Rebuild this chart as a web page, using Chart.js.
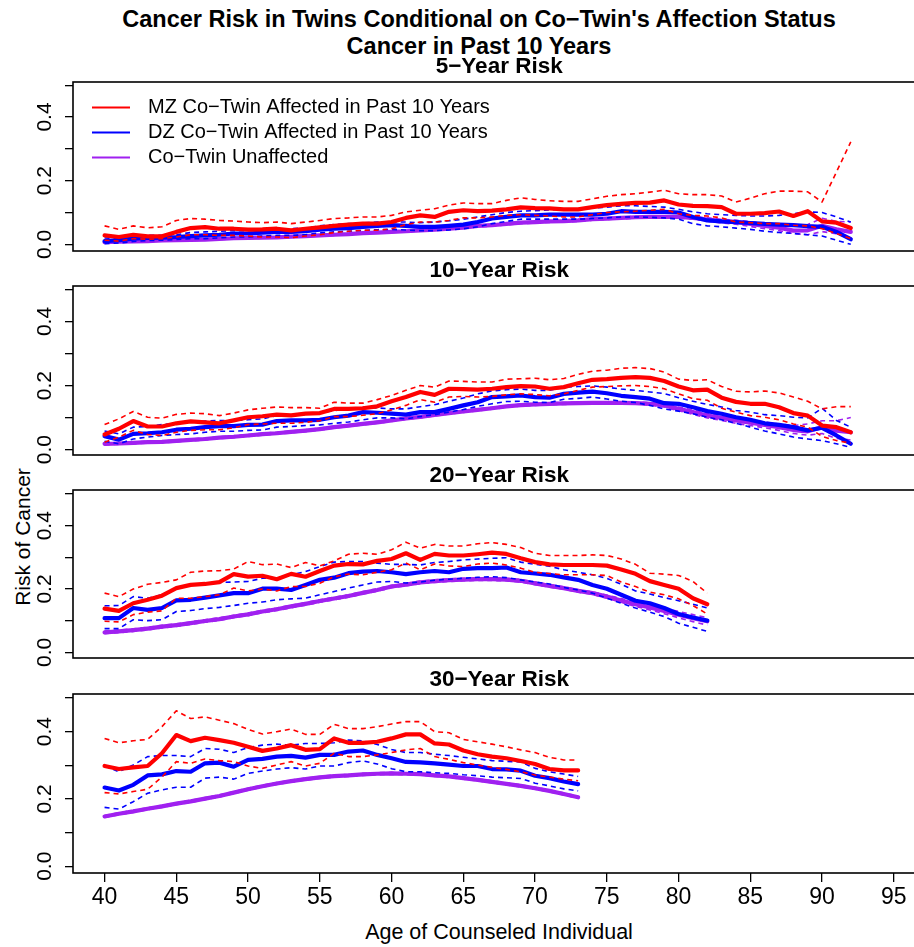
<!DOCTYPE html>
<html>
<head>
<meta charset="utf-8">
<script src="https://cdn.jsdelivr.net/npm/chart.js@4.4.0/dist/chart.umd.min.js"></script>
<style>
html, body { margin:0; padding:0; background:#fff; overflow:hidden; }
#wrap { position:relative; width:914px; height:947px; overflow:hidden; }
#wrap canvas { position:absolute; left:0; }
.t { position:absolute; white-space:nowrap; font-family:'Liberation Sans', Arial, sans-serif; color:#000; transform:translate(-50%,-50%); line-height:1; }
</style>
</head>
<body>
<div id="wrap">
  <div class="t" style="left:479px;top:20px;font-weight:bold;font-size:23.5px">Cancer Risk in Twins Conditional on Co−Twin's Affection Status</div>
  <div class="t" style="left:479px;top:47px;font-weight:bold;font-size:23.5px">Cancer in Past 10 Years</div>
  <div class="t" style="left:22px;top:537px;font-size:21px;transform:translate(-50%,-50%) rotate(-90deg)">Risk of Cancer</div>
  <div class="t" style="left:499px;top:933px;font-size:21.5px">Age of Counseled Individual</div>
</div>
<script>
const FONT = "'Liberation Sans', Arial, sans-serif";
const RED = '#FF0000', BLUE = '#0000FF', PURPLE = '#A020F0';

// ages on the x axis (the shorter horizons stop earlier)
const AGES = [40,41,42,43,44,45,46,47,48,49,50,51,52,53,54,55,56,57,58,59,60,61,62,63,64,65,66,67,68,69,
  70,71,72,73,74,75,76,77,78,79,80,81,82,83,84,85,86,87,88,89,90,91,92];
const X_TICKS = [40,45,50,55,60,65,70,75,80,85,90,95];
const Y_TICKS = [0,0.1,0.2,0.3,0.4,0.5];
const Y_LABELS = [0,0.2,0.4];
const LEGEND = ['MZ Co\u2212Twin Affected in Past 10 Years', 'DZ Co\u2212Twin Affected in Past 10 Years', 'Co\u2212Twin Unaffected'];

// ---- 5-year risk ----
const R5 = [.028,.023,.030,.025,.025,.039,.051,.054,.049,.049, .046,.047,.049,.044,.049,.053,.058,.062,.065,.065,
  .070,.083,.091,.086,.102,.107,.104,.106,.110,.116, .114,.113,.110,.110,.117,.123,.127,.130,.131,.138,
  .125,.121,.120,.117,.096,.096,.098,.103,.089,.104, .072,.068,.051];
const R5_HI = [.058,.047,.058,.052,.055,.075,.081,.079,.075,.073, .070,.068,.070,.065,.070,.075,.081,.083,.086,.086,
  .091,.102,.107,.112,.123,.130,.128,.128,.138,.146, .141,.137,.135,.135,.143,.151,.156,.159,.164,.170,
  .159,.156,.156,.152,.133,.145,.159,.167,.167,.165, .133,.227,.322];
const R5_LO = [.013,.010,.018,.016,.018,.023,.030,.030,.028,.028, .026,.023,.023,.021,.026,.030,.037,.041,.044,.044,
  .049,.062,.070,.070,.075,.083,.083,.086,.091,.093, .091,.089,.086,.086,.093,.100,.102,.104,.107,.110,
  .096,.091,.089,.083,.070,.068,.065,.065,.060,.058, .049,.034,.018];
const B5 = [.010,.013,.018,.020,.021,.023,.026,.028,.030,.034, .034,.037,.039,.039,.041,.046,.049,.051,.055,.058,
  .060,.058,.055,.055,.058,.062,.070,.081,.086,.091, .091,.093,.093,.093,.093,.096,.104,.102,.102,.102,
  .100,.086,.075,.072,.070,.067,.064,.062,.060,.057, .055,.039,.016];
const B5_HI = [.020,.018,.026,.028,.028,.030,.037,.039,.041,.043, .043,.047,.049,.049,.051,.058,.062,.065,.067,.070,
  .070,.070,.068,.070,.074,.079,.086,.093,.100,.104, .106,.108,.110,.110,.114,.117,.121,.121,.119,.117,
  .110,.102,.096,.093,.091,.089,.089,.091,.096,.102, .100,.086,.070];
const B5_LO = [.002,.004,.009,.012,.013,.015,.018,.018,.020,.023, .023,.026,.028,.028,.030,.036,.039,.041,.044,.046,
  .047,.045,.043,.043,.045,.049,.055,.065,.072,.079, .079,.079,.079,.079,.081,.083,.086,.086,.085,.083,
  .079,.065,.058,.055,.051,.047,.041,.037,.034,.030, .026,.013,.000];
const P5 = [.007,.008,.009,.010,.012,.013,.014,.015,.017,.019, .020,.021,.022,.024,.026,.028,.030,.032,.035,.037,
  .039,.041,.044,.046,.049,.052,.058,.060,.064,.068, .070,.072,.073,.075,.079,.081,.083,.085,.086,.086,
  .086,.083,.078,.073,.070,.064,.058,.052,.043,.044, .058,.047,.039];
const P5_HI = [.009,.010,.011,.012,.014,.015,.016,.017,.019,.021, .022,.023,.024,.026,.028,.030,.032,.034,.037,.039,
  .041,.043,.046,.048,.051,.054,.060,.062,.066,.070, .072,.074,.076,.078,.082,.084,.086,.088,.089,.089,
  .089,.087,.083,.078,.076,.071,.066,.062,.058,.062, .082,.072,.070];
const P5_LO = [.005,.006,.007,.008,.010,.011,.012,.013,.015,.017, .018,.019,.020,.022,.024,.026,.028,.030,.033,.035,
  .037,.039,.042,.044,.047,.050,.055,.057,.061,.065, .067,.069,.070,.072,.076,.078,.080,.082,.083,.083,
  .083,.079,.073,.067,.063,.056,.049,.043,.034,.030, .040,.033,.017];

// ---- 10-year risk ----
const R10 = [.047,.065,.089,.072,.072,.082,.088,.085,.082,.091, .101,.104,.109,.107,.112,.114,.127,.127,.129,.135,
  .151,.164,.180,.171,.190,.189,.187,.190,.195,.198, .197,.190,.195,.207,.218,.220,.224,.226,.224,.214,
  .197,.185,.187,.162,.149,.143,.143,.132,.114,.106, .075,.070,.054];
const R10_HI = [.078,.096,.119,.101,.098,.110,.114,.112,.106,.114, .124,.129,.133,.131,.131,.129,.148,.145,.145,.156,
  .169,.185,.200,.195,.214,.213,.211,.211,.220,.221, .223,.218,.222,.235,.245,.248,.254,.256,.253,.242,
  .220,.216,.218,.197,.182,.180,.183,.177,.164,.151, .127,.134,.134];
const R10_LO = [.023,.039,.060,.047,.044,.054,.060,.062,.062,.068, .078,.080,.082,.082,.085,.090,.103,.103,.107,.112,
  .124,.138,.156,.148,.164,.166,.164,.166,.171,.174, .172,.168,.174,.185,.195,.197,.199,.200,.197,.190,
  .174,.159,.154,.129,.117,.106,.101,.093,.080,.070, .041,.028,.020];
const B10 = [.042,.031,.049,.051,.054,.062,.065,.070,.073,.073, .077,.078,.089,.091,.091,.093,.101,.106,.117,.115,
  .112,.109,.117,.117,.127,.138,.148,.164,.166,.169, .164,.162,.174,.178,.181,.176,.168,.164,.159,.145,
  .143,.132,.120,.112,.101,.093,.082,.077,.070,.060, .068,.044,.018];
const B10_HI = [.058,.049,.070,.072,.078,.082,.086,.089,.091,.091, .093,.096,.106,.108,.110,.114,.122,.127,.132,.130,
  .127,.127,.134,.140,.151,.161,.174,.183,.187,.189, .185,.185,.195,.197,.199,.195,.189,.185,.180,.175,
  .162,.151,.141,.133,.122,.117,.109,.106,.101,.099, .129,.091,.070];
const B10_LO = [.026,.018,.033,.039,.044,.047,.049,.054,.057,.057, .060,.061,.070,.072,.075,.077,.082,.086,.093,.099,
  .099,.096,.103,.109,.117,.125,.135,.143,.150,.151, .148,.147,.157,.160,.164,.158,.151,.147,.138,.127,
  .120,.112,.101,.093,.082,.070,.058,.049,.039,.033, .028,.018,.007];
const P10 = [.018,.019,.021,.023,.024,.027,.030,.033,.037,.040, .044,.048,.051,.055,.059,.064,.070,.075,.080,.085,
  .091,.097,.102,.108,.114,.119,.124,.129,.135,.139, .141,.143,.144,.145,.146,.146,.146,.145,.143,.138,
  .127,.117,.106,.099,.091,.084,.077,.070,.061,.057, .070,.059,.054];
const P10_HI = [.021,.022,.024,.026,.027,.030,.033,.036,.040,.043, .047,.051,.054,.058,.062,.067,.073,.078,.083,.088,
  .094,.100,.105,.111,.117,.122,.127,.132,.138,.142, .144,.146,.147,.148,.149,.149,.149,.148,.147,.143,
  .133,.124,.113,.107,.100,.093,.086,.080,.075,.080, .090,.090,.100];
const P10_LO = [.015,.016,.018,.020,.021,.024,.027,.030,.034,.037, .041,.045,.048,.052,.056,.061,.067,.072,.077,.082,
  .088,.094,.099,.105,.111,.116,.121,.126,.132,.136, .138,.140,.141,.142,.143,.143,.143,.142,.139,.133,
  .121,.110,.099,.091,.082,.075,.068,.060,.050,.045, .050,.035,.030];

// ---- 20-year risk ----
const R20 = [.138,.131,.155,.166,.179,.203,.213,.216,.222,.247, .239,.242,.231,.248,.239,.257,.274,.279,.278,.289,
  .295,.313,.292,.311,.306,.306,.310,.315,.311,.297, .285,.278,.276,.276,.276,.274,.262,.248,.225,.213,
  .201,.171,.152];
const R20_HI = [.187,.176,.200,.215,.221,.229,.253,.257,.258,.263, .287,.277,.279,.268,.284,.273,.289,.310,.313,.310,
  .324,.348,.329,.341,.336,.336,.343,.347,.341,.331, .313,.306,.306,.306,.308,.306,.295,.278,.250,.247,
  .243,.224,.187];
const R20_LO = [.098,.096,.119,.127,.131,.171,.171,.176,.182,.203, .194,.200,.194,.208,.208,.218,.239,.247,.245,.253,
  .261,.282,.261,.279,.273,.271,.279,.282,.276,.266, .253,.249,.245,.245,.245,.243,.222,.208,.190,.182,
  .169,.148,.121];
const B20 = [.108,.108,.140,.134,.140,.164,.166,.173,.180,.187, .187,.201,.201,.197,.213,.229,.236,.250,.255,.257,
  .253,.247,.253,.257,.253,.264,.266,.266,.268,.253, .249,.245,.237,.229,.213,.201,.182,.163,.155,.140,
  .121,.110,.100];
const B20_HI = [.147,.148,.176,.171,.182,.203,.213,.215,.221,.222, .224,.234,.236,.245,.255,.271,.285,.287,.287,.282,
  .278,.278,.276,.284,.287,.292,.295,.297,.299,.285, .278,.272,.261,.253,.245,.234,.215,.194,.184,.173,
  .163,.152,.140];
const B20_LO = [.075,.075,.103,.100,.103,.129,.132,.138,.142,.148, .155,.159,.166,.169,.171,.182,.192,.203,.213,.222,
  .224,.219,.222,.228,.231,.234,.237,.239,.236,.229, .222,.216,.205,.197,.187,.171,.155,.140,.127,.113,
  .092,.079,.066];
const P20 = [.063,.066,.070,.075,.081,.086,.092,.099,.105,.113, .120,.129,.136,.145,.153,.162,.170,.178,.188,.197,
  .208,.214,.221,.225,.228,.230,.231,.231,.230,.226, .218,.210,.203,.194,.187,.176,.164,.152,.142,.131,
  .119,.108,.098];
const P20_HI = [.067,.070,.074,.079,.085,.090,.096,.103,.109,.117, .124,.133,.140,.149,.157,.166,.174,.182,.192,.201,
  .212,.218,.225,.229,.232,.234,.235,.235,.234,.230, .222,.214,.207,.198,.191,.181,.170,.159,.150,.140,
  .129,.119,.110];
const P20_LO = [.059,.062,.066,.071,.077,.082,.088,.095,.101,.109, .116,.125,.132,.141,.149,.158,.166,.174,.184,.193,
  .204,.210,.217,.221,.224,.226,.227,.227,.226,.222, .214,.206,.199,.190,.183,.171,.158,.145,.134,.122,
  .109,.097,.086];

// ---- 30-year risk ----
const R30 = [.298,.289,.294,.298,.336,.390,.372,.382,.375,.367, .355,.343,.350,.360,.346,.348,.380,.367,.367,.370,
  .380,.392,.392,.365,.362,.344,.333,.326,.321,.313, .304,.289,.285,.285];
const R30_HI = [.380,.367,.373,.377,.415,.462,.439,.444,.434,.424, .407,.393,.400,.408,.392,.392,.422,.409,.409,.415,
  .423,.430,.430,.400,.397,.377,.370,.363,.355,.346, .338,.324,.316,.316];
const R30_LO = [.219,.215,.222,.229,.265,.311,.306,.319,.314,.311, .298,.291,.301,.311,.298,.306,.336,.326,.326,.331,
  .338,.346,.350,.326,.318,.308,.301,.294,.288,.281, .271,.265,.259,.254];
const B30 = [.234,.225,.242,.270,.273,.283,.281,.306,.308,.296, .316,.319,.326,.328,.323,.331,.331,.341,.344,.331,
  .321,.310,.309,.306,.302,.298,.298,.289,.288,.284, .269,.262,.252,.244];
const B30_HI = [.298,.281,.301,.326,.329,.329,.326,.350,.348,.338, .353,.360,.363,.360,.365,.365,.367,.375,.373,.362,
  .347,.338,.338,.333,.329,.324,.319,.314,.312,.310, .291,.281,.274,.267];
const B30_LO = [.175,.170,.192,.217,.227,.235,.235,.262,.265,.259, .276,.283,.289,.293,.289,.298,.298,.308,.313,.304,
  .290,.281,.281,.278,.276,.272,.269,.265,.263,.261, .247,.239,.230,.224];
const P30 = [.148,.156,.163,.171,.178,.186,.193,.201,.209,.219, .229,.238,.246,.253,.259,.264,.268,.270,.273,.275,
  .276,.275,.274,.270,.267,.262,.257,.251,.245,.239, .232,.224,.215,.205];
const P30_HI = [.151,.159,.166,.174,.181,.189,.196,.204,.212,.222, .232,.241,.249,.256,.262,.267,.271,.273,.276,.278,
  .279,.278,.277,.273,.270,.265,.260,.254,.248,.242, .235,.227,.218,.208];
const P30_LO = [.145,.153,.160,.168,.175,.183,.190,.198,.206,.216, .226,.235,.243,.250,.256,.261,.265,.267,.270,.272,
  .273,.272,.271,.267,.264,.259,.254,.248,.242,.236, .229,.221,.212,.202];

// layout of the four panels (plot box in page pixels)
const CANVAS_W = 960;
const PLOT_L = 73, PLOT_R = 925.4;
const X_MIN = 37.8, X_MAX = 97.2;
const PAD = 10, XAXIS_H = 50;
const panels = [
  { title:'5\u2212Year Risk',  top:81.7,  bottom:250.7, ymin:-0.021, ymax:0.510,
    lines:[R5,R5_HI,R5_LO,B5,B5_HI,B5_LO,P5,P5_HI,P5_LO], legend:true },
  { title:'10\u2212Year Risk', top:285.7, bottom:454.3, ymin:-0.017, ymax:0.511,
    lines:[R10,R10_HI,R10_LO,B10,B10_HI,B10_LO,P10,P10_HI,P10_LO] },
  { title:'20\u2212Year Risk', top:490,   bottom:658.3, ymin:-0.018, ymax:0.513,
    lines:[R20,R20_HI,R20_LO,B20,B20_HI,B20_LO,P20,P20_HI,P20_LO] },
  { title:'30\u2212Year Risk', top:694.3, bottom:873.3, ymin:-0.020, ymax:0.512,
    lines:[R30,R30_HI,R30_LO,B30,B30_HI,B30_LO,P30,P30_HI,P30_LO], xaxis:true }
];
const COLORS = [RED,RED,RED,BLUE,BLUE,BLUE,PURPLE,PURPLE,PURPLE];
const DASHED = [false,true,true,false,true,true,false,true,true];

function makeDataset(arr, color, dashed){
  return {
    data: arr.map((v,i)=>({x:AGES[i], y:v})),
    borderColor: color,
    backgroundColor: color,
    borderWidth: dashed ? 1.6 : 4.2,
    borderDash: dashed ? [5,4] : [],
    borderCapStyle: dashed ? 'butt' : 'round',
    borderJoinStyle: 'round',
    pointRadius: 0,
    tension: 0,
    fill: false
  };
}

// box round the plot, drawn after the lines like R's box()
const boxPlugin = {
  id:'box',
  afterDraw(chart){
    const a = chart.chartArea, c = chart.ctx;
    c.save();
    c.strokeStyle = '#000';
    c.lineWidth = 1.6;
    c.strokeRect(a.left, a.top, a.right-a.left, a.bottom-a.top);
    c.restore();
  }
};

// vertical y tick labels (0.0, 0.2, 0.4) placed with the y scale
const yLabelPlugin = {
  id:'ylab',
  afterDraw(chart){
    const s = chart.scales.y, c = chart.ctx;
    c.save();
    c.font = '21px ' + FONT;
    c.fillStyle = '#000';
    c.textAlign = 'center';
    c.textBaseline = 'middle';
    Y_LABELS.forEach(v=>{
      c.save();
      c.translate(45, s.getPixelForValue(v));
      c.rotate(-Math.PI/2);
      c.fillText(v.toFixed(1), 0, 0);
      c.restore();
    });
    c.restore();
  }
};

const legendPlugin = {
  id:'rlegend',
  afterDraw(chart){
    const opts = chart.options.plugins.rlegend;
    if(!opts || !opts.show) return;
    const c = chart.ctx, top = chart.chartArea.top;
    const cols = [RED, BLUE, PURPLE];
    c.save();
    c.font = '20px ' + FONT;
    c.textBaseline = 'middle';
    c.textAlign = 'left';
    LEGEND.forEach((txt,i)=>{
      const y = top + 25.6 + i*25;
      c.strokeStyle = cols[i];
      c.lineWidth = 2;
      c.beginPath(); c.moveTo(92, y); c.lineTo(130, y); c.stroke();
      c.fillStyle = '#000';
      c.fillText(txt, 148, y);
    });
    c.restore();
  }
};

const wrap = document.getElementById('wrap');
panels.forEach(p=>{
  const h = (p.bottom - p.top) + PAD + (p.xaxis ? XAXIS_H : PAD);
  const cv = document.createElement('canvas');
  cv.width = CANVAS_W; cv.height = Math.round(h);
  cv.style.width = CANVAS_W + 'px'; cv.style.height = Math.round(h) + 'px';
  cv.style.top = (p.top - PAD) + 'px';
  wrap.appendChild(cv);

  const t = document.createElement('div');
  t.className = 't';
  t.style.cssText = `left:${(PLOT_L+PLOT_R)/2}px;top:${p.top-15.5}px;font-weight:bold;font-size:22.5px`;
  t.textContent = p.title;
  wrap.appendChild(t);

  const xScale = {
    type:'linear', min:X_MIN, max:X_MAX, display: !!p.xaxis,
    afterBuildTicks: ax => { ax.ticks = X_TICKS.map(v=>({value:v})); },
    border:{display:false},
    grid:{ drawOnChartArea:false, drawTicks:true, tickLength:9, color:'#000', lineWidth:1.3 },
    ticks:{ color:'#000', font:{family:FONT, size:23}, padding:2, maxRotation:0, autoSkip:false,
            callback: v => String(v) }
  };
  if(p.xaxis) xScale.afterFit = s => { s.height = XAXIS_H; };

  new Chart(cv.getContext('2d'), {
    type:'line',
    data:{ datasets: p.lines.map((arr,i)=>makeDataset(arr, COLORS[i], DASHED[i])) },
    options:{
      responsive:false,
      animation:false,
      events:[],
      layout:{ padding:{ top:PAD, left:0, right:CANVAS_W-PLOT_R, bottom: p.xaxis ? 0 : PAD } },
      plugins:{ legend:{display:false}, tooltip:{enabled:false}, rlegend:{show:!!p.legend} },
      scales:{
        x: xScale,
        y:{
          type:'linear', min:p.ymin, max:p.ymax,
          afterBuildTicks: ax => { ax.ticks = Y_TICKS.map(v=>({value:v})); },
          afterFit: s => { s.width = PLOT_L; },
          border:{display:false},
          grid:{ drawOnChartArea:false, drawTicks:true, tickLength:8, color:'#000', lineWidth:1.3 },
          ticks:{ display:false }
        }
      }
    },
    plugins:[boxPlugin, yLabelPlugin, legendPlugin]
  });
});
</script>
</body>
</html>
